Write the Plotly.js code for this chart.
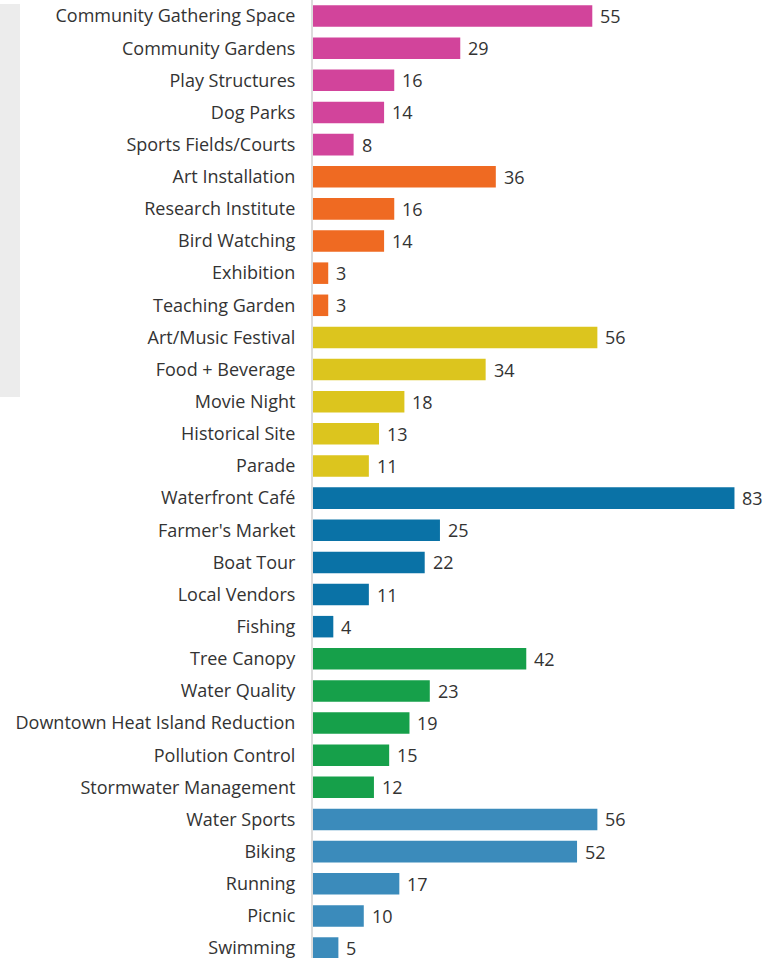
<!DOCTYPE html>
<html>
<head>
<meta charset="utf-8">
<script src="https://cdn.plot.ly/plotly-3.0.1.min.js"></script>
<style>
html,body{margin:0;padding:0;background:#fff;}
#chart{width:769px;height:958px;}
</style>
</head>
<body>
<div id="chart"></div>
<script>
const categories = [
  "Community Gathering Space","Community Gardens","Play Structures","Dog Parks","Sports Fields/Courts",
  "Art Installation","Research Institute","Bird Watching","Exhibition","Teaching Garden",
  "Art/Music Festival","Food + Beverage","Movie Night","Historical Site","Parade",
  "Waterfront Café","Farmer's Market","Boat Tour","Local Vendors","Fishing",
  "Tree Canopy","Water Quality","Downtown Heat Island Reduction","Pollution Control","Stormwater Management",
  "Water Sports","Biking","Running","Picnic","Swimming"
];
const values = [
  55,29,16,14,8,
  36,16,14,3,3,
  56,34,18,13,11,
  83,25,22,11,4,
  42,23,19,15,12,
  56,52,17,10,5
];
const groups = [
  0,0,0,0,0,
  1,1,1,1,1,
  2,2,2,2,2,
  3,3,3,3,3,
  4,4,4,4,4,
  5,5,5,5,5
];
const groupColors = ["#d2449b","#ef6a22","#dcc51e","#0a72a6","#16a04a","#3b8bbb"];
const FONT = "'Open Sans', sans-serif";

const trace = {
  type: "bar",
  orientation: "h",
  y: categories,
  x: values,
  marker: {color: groups.map(g => groupColors[g])},
  cliponaxis: false,
  hoverinfo: "x+y"
};

const valueLabels = values.map((v, i) => ({
  x: v, y: categories[i],
  xref: "x", yref: "y",
  text: String(v),
  showarrow: false,
  xanchor: "left",
  xshift: 6,
  font: {family: FONT, size: 18, color: "#333"}
}));

const layout = {
  width: 769,
  height: 958,
  margin: {l: 313, r: 0, t: 0, b: 0, pad: 0},
  paper_bgcolor: "#fff",
  plot_bgcolor: "rgba(0,0,0,0)",
  showlegend: false,
  bargap: 0.33,
  font: {family: FONT, size: 18, color: "#333"},
  xaxis: {
    range: [0, 89.8],
    visible: false,
    fixedrange: true
  },
  yaxis: {
    type: "category",
    range: [29.31, -0.5],
    showline: true,
    linecolor: "#dcdcdc",
    linewidth: 2,
    showgrid: false,
    zeroline: false,
    ticks: "",
    ticklabelstandoff: 12,
    tickfont: {family: FONT, size: 18, color: "#333"},
    fixedrange: true
  },
  annotations: valueLabels,
  shapes: [{
    type: "rect",
    xref: "paper", yref: "paper",
    x0: -313/456, x1: -293/456,
    y0: 1 - 397/958, y1: 1 - 4/958,
    fillcolor: "#ececec",
    line: {width: 0},
    layer: "below"
  }]
};

Plotly.newPlot("chart", [trace], layout, {displayModeBar: false, staticPlot: true});
</script>
</body>
</html>
